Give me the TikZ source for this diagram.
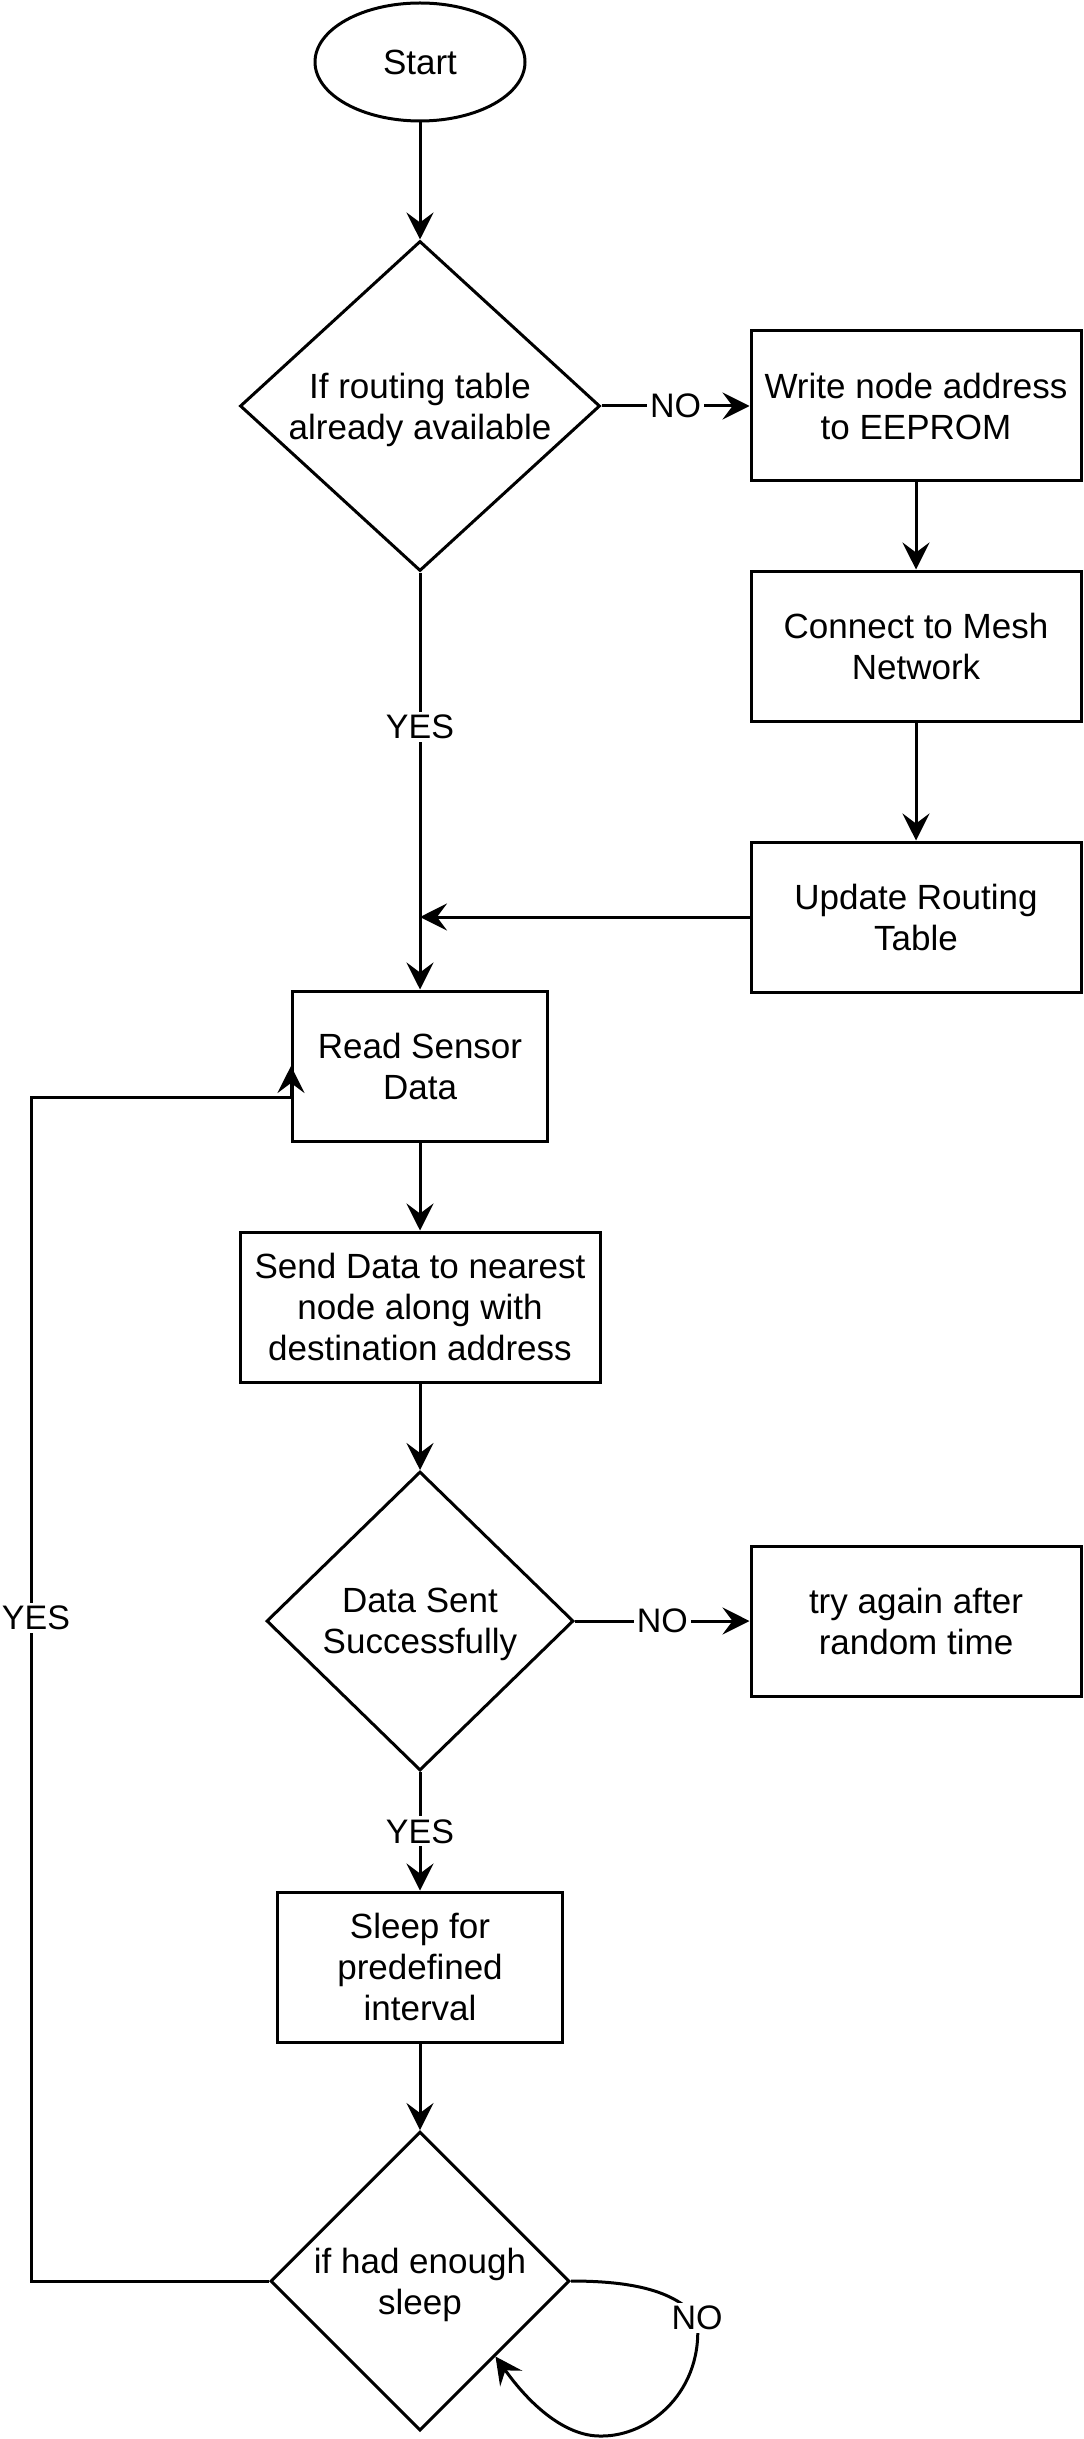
\documentclass[tikz,border=0pt]{standalone}
\usepackage{fontspec}
\setmainfont{Liberation Sans}
\usetikzlibrary{shapes.geometric}
\usetikzlibrary{arrows.meta}
\usetikzlibrary{calc}

\begin{document}
\begin{tikzpicture}[x=0.5pt, y=-0.5pt, line width=1.5pt,
    every node/.style={align=center, text depth=0pt, font=\fontsize{17.5}{20.5}\selectfont},
    block/.style={rectangle, draw, minimum width=165pt, minimum height=75pt, inner sep=0pt},
    decision/.style={diamond, draw, inner sep=0pt},
    startstop/.style={ellipse, draw, minimum width=105pt, minimum height=59pt},
    arrow/.style={-{Stealth[length=13.5pt, width=13.5pt, inset=5pt]}},
    lbl/.style={fill=white, inner sep=1.5pt, font=\fontsize{17}{20}\selectfont}]
        % Fix the size of the page
        \useasboundingbox (0,0) rectangle (1083,2439);

        % Draw the start and the setup steps
        \node[startstop] (start) at (420,62) {Start};
        \node[decision, aspect=1.09, minimum width=180pt, minimum height=165pt] (route) at (420,406) {If routing table\\already available};
        \node[block] (write) at (916,406) {Write node address\\to EEPROM};
        \node[block] (mesh) at (916,646) {Connect to Mesh\\Network};
        \node[block] (update) at (916,917) {Update Routing\\Table};

        % Draw the main loop
        \node[block, minimum width=127.5pt] (read) at (420,1066) {Read Sensor\\Data};
        \node[block, minimum width=180pt] (send) at (420,1307) {Send Data to nearest\\node along with\\destination address};
        \node[decision, minimum width=153.5pt, minimum height=149.5pt] (sent) at (420,1621) {Data Sent\\Successfully};
        \node[block] (retry) at (916,1621) {try again after\\random time};
        \node[block, minimum width=142.5pt] (sleep) at (420,1967) {Sleep for\\predefined\\interval};
        \node[decision, minimum width=149.5pt, minimum height=149.5pt] (enough) at (420,2281) {if had enough\\sleep};

        \coordinate (loop) at (31,1097);

        % Draw the connectors
        \draw[arrow] (start) -- (route);
        \draw[arrow] (route) -- node[lbl] {NO} (write);
        \draw[arrow] (write) -- (mesh);
        \draw[arrow] (mesh) -- (update);
        \draw[arrow] (route) -- node[lbl, pos=0.37] {YES} (read);
        \draw[arrow] (update) -- (update -| route);
        \draw[arrow] (read) -- (send);
        \draw[arrow] (send) -- (sent);
        \draw[arrow] (sent) -- node[lbl] {NO} (retry);
        \draw[arrow] (sent) -- node[lbl] {YES} (sleep);
        \draw[arrow] (sleep) -- (enough);
        \draw[arrow] (enough.west) -| node[lbl, pos=0.78, xshift=2.5pt] {YES} (loop) -| (read.west);

        % Draw the self loop back into the last test
        \draw[arrow] (enough.east) .. controls (630,2281) and (675,2290) .. (697,2318) node[lbl] {NO}
            .. controls (705,2390) and (650,2437) .. (600,2436)
            .. controls (565,2436) and (530,2405) .. ($(enough.east)!0.5!(enough.south)$);
\end{tikzpicture}
\end{document}
